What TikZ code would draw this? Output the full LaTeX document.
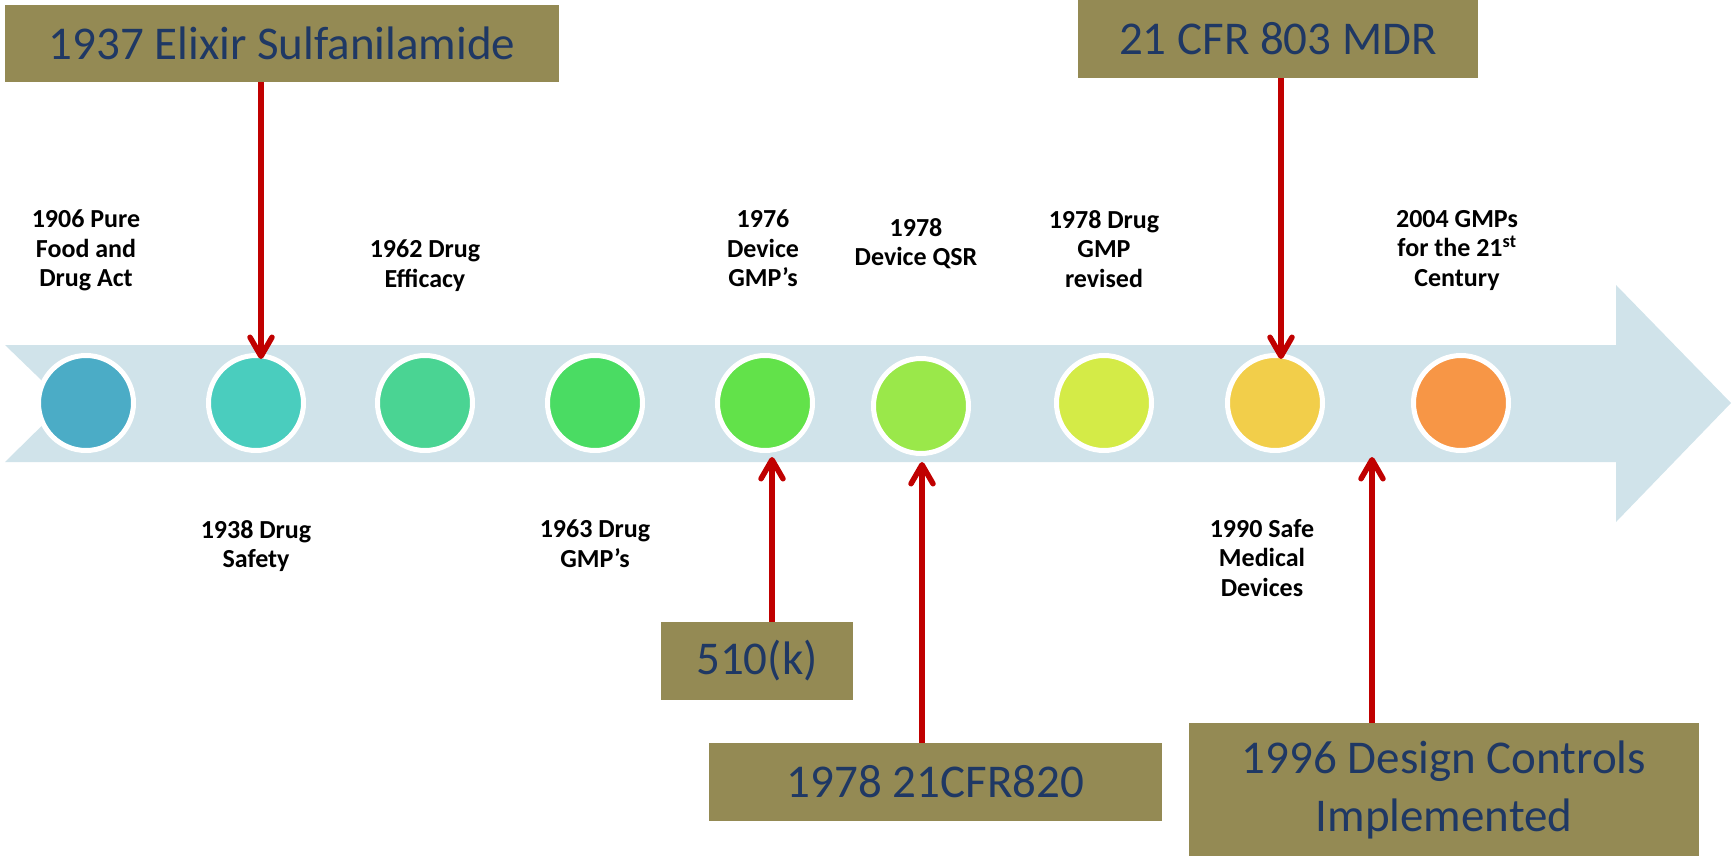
\documentclass[tikz,border=0pt]{standalone}
\usepackage{fontspec}
\setmainfont{Carlito}
\usetikzlibrary{arrows.meta}
\definecolor{bandc}{HTML}{D0E3EA}
\definecolor{boxc}{HTML}{948A54}
\definecolor{navyc}{HTML}{1F3864}
\definecolor{redc}{HTML}{C00000}
\definecolor{c1}{HTML}{4BACC6}
\definecolor{c2}{HTML}{4ACDBE}
\definecolor{c3}{HTML}{4AD493}
\definecolor{c4}{HTML}{4ADC63}
\definecolor{c5}{HTML}{62E24A}
\definecolor{c6}{HTML}{9AE84A}
\definecolor{c7}{HTML}{D4EB47}
\definecolor{c8}{HTML}{F2CE4A}
\definecolor{c9}{HTML}{F79646}
\begin{document}
\begin{tikzpicture}[x=1pt,y=-1pt,
  dot/.style={circle, minimum size=95pt, inner sep=0pt, draw=white, line width=5pt},
  lbl/.style={align=center, anchor=north, inner sep=0pt, font=\fontsize{26}{29.5}\selectfont\bfseries},
  box/.style={fill=boxc, text=navyc, inner sep=0pt, align=center, font=\fontsize{47}{58}\selectfont},
  redarrow/.style={draw=redc, line width=5.5pt, -{Straight Barb[length=19pt,width=22pt,round]}}]
\useasboundingbox (0,0) rectangle (1733,856);
% band arrow
\fill[bandc] (5,345) -- (1616,345) -- (1616,285) -- (1731,403) -- (1616,522) -- (1616,462) -- (5,462) -- (65,403) -- cycle;
% circles
\node[dot, fill=c1] (d1) at (86,403) {};
\node[dot, fill=c2] (d2) at (256,403) {};
\node[dot, fill=c3] (d3) at (425,403) {};
\node[dot, fill=c4] (d4) at (595,403) {};
\node[dot, fill=c5] (d5) at (765,403) {};
\node[dot, fill=c6] (d6) at (921,406) {};
\node[dot, fill=c7] (d7) at (1104,403) {};
\node[dot, fill=c8] (d8) at (1275,403) {};
\node[dot, fill=c9] (d9) at (1461,403) {};
% labels
\node[lbl] (l1) at (86,210) {1906 Pure\\Food and\\Drug Act};
\node[lbl] (l2) at (256,520) {1938 Drug\\Safety};
\node[lbl] (l3) at (425,240) {1962 Drug\\Efficacy};
\node[lbl] (l4) at (595,520) {1963 Drug\\GMP’s};
\node[lbl] (l5) at (763,210) {1976\\Device\\GMP’s};
\node[lbl] (l6) at (916,218) {1978\\Device QSR};
\node[lbl] (l7) at (1104,210) {1978 Drug\\GMP\\revised};
\node[lbl] (l8) at (1262,519) {1990 Safe\\Medical\\Devices};
\node[lbl] (l9) at (1457,210) {2004 GMPs\\for the 21\textsuperscript{st}\\Century};
% boxes
\node[box, minimum width=554pt, minimum height=77pt] (b1) at (282,43.5) {1937 Elixir Sulfanilamide};
\node[box, minimum width=400pt, minimum height=78pt] (b2) at (1278,39) {21 CFR 803 MDR};
\node[box, minimum width=192pt, minimum height=78pt] (b3) at (757,661) {510(k)};
\node[box, minimum width=453pt, minimum height=78pt] (b4) at (935.5,782) {1978 21CFR820};
\node[box, minimum width=510pt, minimum height=133pt] (b5) at (1444,789.5) {1996 Design Controls\\Implemented};
% arrow targets
\coordinate (t1) at (261,359);
\coordinate (t2) at (1281,359);
\coordinate (t3) at (772,457);
\coordinate (t4) at (922,462);
\coordinate (t5) at (1372,457);
\draw[redarrow] (b1.south -| t1) -- (t1);
\draw[redarrow] (b2.south -| t2) -- (t2);
\draw[redarrow] (b3.north -| t3) -- (t3);
\draw[redarrow] (b4.north -| t4) -- (t4);
\draw[redarrow] (b5.north -| t5) -- (t5);
\end{tikzpicture}
\end{document}
